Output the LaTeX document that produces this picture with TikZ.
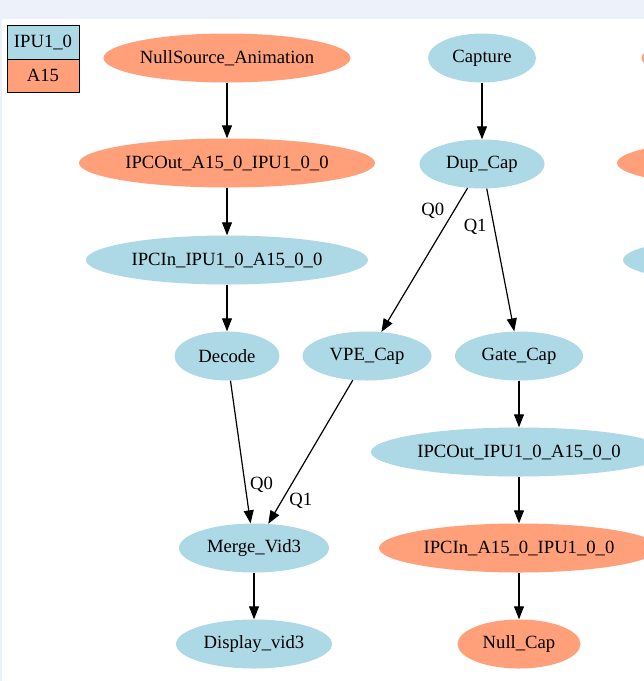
\documentclass[tikz,border=0pt]{standalone}
\usepackage{fontspec}
\setmainfont{Liberation Serif}
\usepackage{xcolor}
\usepackage{tikz}
\usetikzlibrary{arrows.meta, shapes.geometric}
\usetikzlibrary{calc,positioning}

\definecolor{ipublue}{HTML}{ADD8E6}
\definecolor{asalmon}{HTML}{FFA07A}
\definecolor{pagestrip}{HTML}{EDF2FA}

\begin{document}
\begin{tikzpicture}[x=1pt, y=-1pt, font=\fontsize{18.67}{22}\selectfont]
			\tikzstyle{ipu}=[ellipse, fill=ipublue, inner sep=0pt, minimum height=49pt]
			\tikzstyle{a15}=[ellipse, fill=asalmon, inner sep=0pt, minimum height=49pt]
			\tikzstyle{legend}=[draw, line width=1pt, inner sep=0pt, outer sep=0pt, minimum width=72pt]
			\tikzstyle{qlabel}=[inner sep=1pt]
			
			\useasboundingbox (0,0) rectangle (644,681);
			\clip (0,0) rectangle (644,681);
			\fill[pagestrip] (0,0) rectangle (644,19);
			\fill[pagestrip] (0,19) rectangle (2,681);
			
			\node[legend, fill=ipublue, minimum height=34pt] (legipu) at (43,42) {IPU1\_0};
			\node[legend, fill=asalmon, minimum height=33pt, below=0pt of legipu] (lega15) {A15};
			
			\node[a15, minimum width=247pt] (nullsrc)   at (227,58)  {NullSource\_Animation};
			\node[a15, minimum width=296pt] (ipcouta15) at (227,163) {IPCOut\_A15\_0\_IPU1\_0\_0};
			\node[ipu, minimum width=282pt] (ipcinipu)  at (227,260) {IPCIn\_IPU1\_0\_A15\_0\_0};
			\node[ipu, minimum width=105pt] (decode)    at (227,356) {Decode};
			
			\node[ipu, minimum width=129pt] (vpecap)    at (367,356) {VPE\_Cap};
			
			\node[ipu, minimum width=150pt] (merge)     at (254,548) {Merge\_Vid3};
			\node[ipu, minimum width=156pt] (display)   at (254,644) {Display\_vid3};
			
			\node[ipu, minimum width=108pt] (capture)   at (482,58)  {Capture};
			\node[ipu, minimum width=125pt] (dupcap)    at (482,164) {Dup\_Cap};
			
			\node[ipu, minimum width=128pt] (gatecap)   at (519,356) {Gate\_Cap};
			\node[ipu, minimum width=296pt] (ipcoutipu) at (519,452) {IPCOut\_IPU1\_0\_A15\_0\_0};
			\node[a15, minimum width=280pt] (ipcina15)  at (519,548) {IPCIn\_A15\_0\_IPU1\_0\_0};
			\node[a15, minimum width=123pt] (nullcap)   at (519,644) {Null\_Cap};
			
			\node[a15, minimum width=247pt] (rightsrc)   at (765,58)  {};
			\node[a15, minimum width=296pt] (rightouta15) at (765,163) {};
			\node[ipu, minimum width=282pt] (rightinipu) at (764,260) {};
			
			\path[->, >={Triangle[length=13pt 0 0, width=10pt 0 0]}, line width=1.2pt]
			(nullsrc) edge (ipcouta15)
			(ipcouta15) edge (ipcinipu)
			(ipcinipu) edge (decode)
			
			(capture) edge (dupcap)
			(dupcap) edge node [qlabel, pos=0.16, left=8pt] {Q0} (vpecap)
			(dupcap) edge node [qlabel, pos=0.27, left=6pt] {Q1} (gatecap)
			
			(decode) edge node [qlabel, pos=0.73, right=3.5pt] {Q0} (merge)
			(vpecap) edge node [qlabel, pos=0.84, right=6pt] {Q1} (merge)
			(merge) edge (display)
			
			(gatecap) edge (ipcoutipu)
			(ipcoutipu) edge (ipcina15)
			(ipcina15) edge (nullcap)
			;
\end{tikzpicture}
\end{document}
